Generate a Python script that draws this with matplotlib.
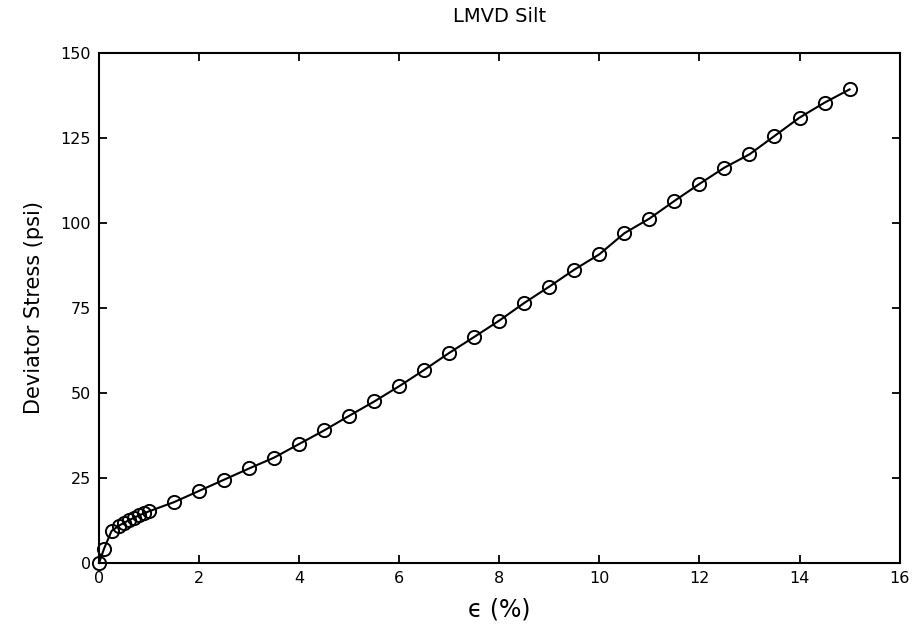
import matplotlib
matplotlib.use("Agg")
import matplotlib.pyplot as plt

# axial strain (%) and deviator stress (psi)
strain = [0.0, 0.1, 0.25, 0.4, 0.5, 0.6, 0.7, 0.8, 0.9, 1.0,
          1.5, 2.0, 2.5, 3.0, 3.5, 4.0, 4.5, 5.0, 5.5, 6.0,
          6.5, 7.0, 7.5, 8.0, 8.5, 9.0, 9.5, 10.0, 10.5, 11.0,
          11.5, 12.0, 12.5, 13.0, 13.5, 14.0, 14.5, 15.0]
stress = [0.0, 4.2, 9.4, 11.0, 11.8, 12.6, 13.3, 14.0, 14.6, 15.2,
          17.9, 21.2, 24.5, 27.8, 31.0, 35.0, 39.0, 43.3, 47.5, 52.0,
          56.8, 61.8, 66.5, 71.3, 76.5, 81.3, 86.3, 90.8, 97.0, 101.3,
          106.5, 111.5, 116.3, 120.2, 125.6, 131.0, 135.4, 139.3]

xticks = [0, 2, 4, 6, 8, 10, 12, 14, 16]
yticks = [0, 25, 50, 75, 100, 125, 150]

fig = plt.figure(figsize=(9.17, 6.39), dpi=100)
ax = fig.add_axes([0.108, 0.119, 0.873, 0.798])

ax.plot(strain, stress, color="black", linewidth=1.5, marker="o",
        markersize=9.5, markerfacecolor="none", markeredgewidth=1.4,
        clip_on=False)

ax.set_xlim(0, 16)
ax.set_ylim(0, 150)
ax.set_xticks(xticks)
ax.set_yticks(yticks)
ax.tick_params(direction="in", length=6, width=1.3, top=True, right=True,
               labelsize=11.5, pad=6)
for lbl in ax.get_xticklabels() + ax.get_yticklabels():
    lbl.set_fontweight("medium")
for s in ax.spines.values():
    s.set_linewidth(1.5)

ax.set_title("LMVD Silt", fontsize=14, pad=22)
ax.set_xlabel("\u03f5 (%)", fontsize=17, labelpad=8)
ax.set_ylabel("Deviator Stress (psi)", fontsize=15, labelpad=12)

fig.savefig("out.png", dpi=100)
